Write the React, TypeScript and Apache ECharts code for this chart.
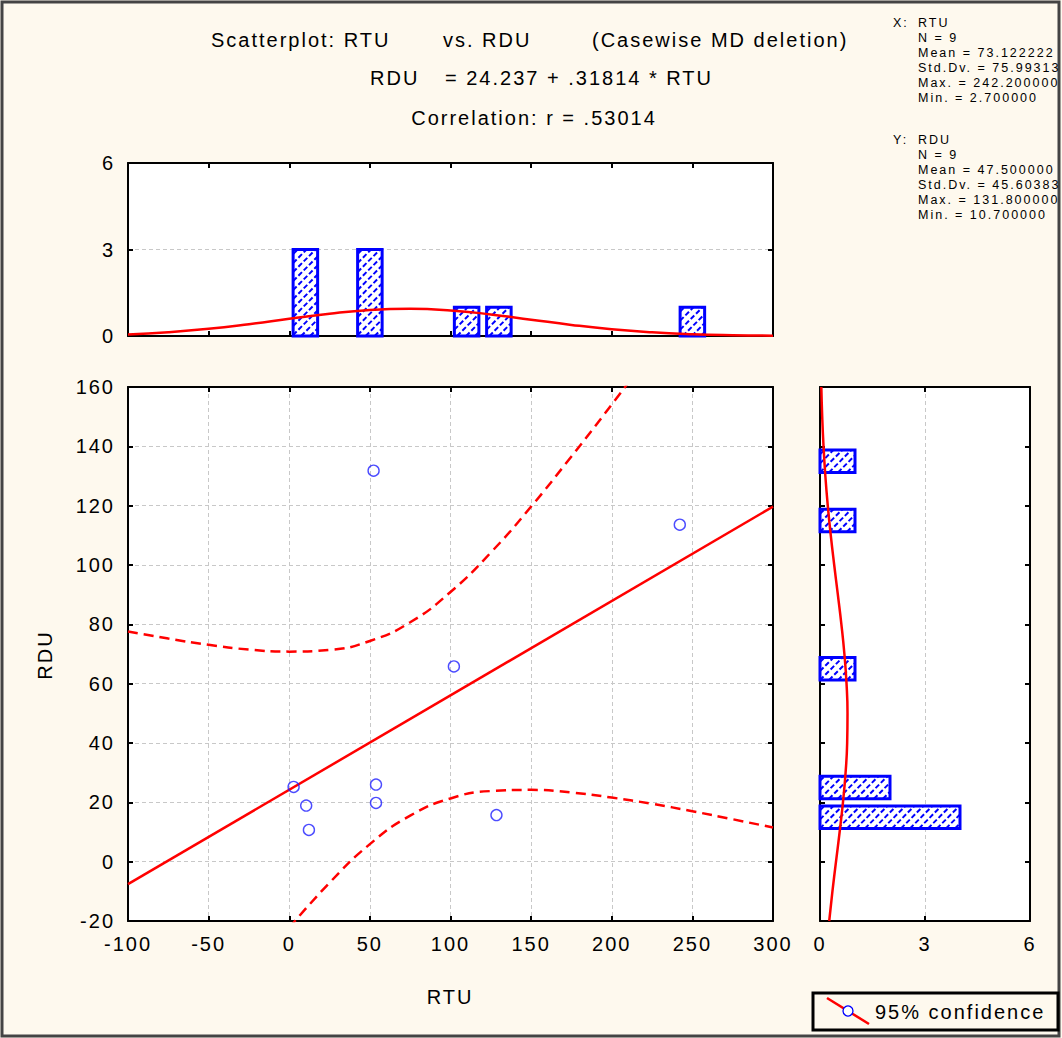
import React, { useEffect, useRef } from "react";
import * as echarts from "echarts";

// Observations
const rtu = [52.3, 242.2, 102.1, 2.7, 10.5, 12.2, 53.8, 53.8, 128.5];
const rdu = [131.8, 113.6, 65.8, 25.2, 18.9, 10.7, 26.0, 19.8, 15.7];

// Fitted line RDU = 24.237 + .31814 * RTU
const intercept = 24.237;
const slope = 0.31814;
const fitEnds = [-100, 300];

// 95% confidence band of the fit
const bandUpperX = [-100, -75, -50, -25, 0, 25, 50, 75, 100, 125, 150, 175, 200, 225];
const bandUpper = [77.6, 75.2, 73.1, 71.5, 70.8, 71.4, 74.4, 80.7, 90.9, 104.2, 119.7, 136.6, 154.1, 172.2];
const bandLowerX = [0, 25, 50, 75, 100, 125, 150, 175, 200, 225, 250, 275, 300];
const bandLower = [-22.3, -7.1, 5.9, 15.5, 21.3, 23.8, 24.2, 23.3, 21.6, 19.5, 17.0, 14.3, 11.5];

// Histogram of RTU: [from, to, count]
const rtuBins = [
  [0, 20, 3],
  [40, 60, 3],
  [100, 120, 1],
  [120, 140, 1],
  [240, 260, 1],
];
// Normal curve over the RTU histogram
const rtuCurveX = [-100, -75, -50, -25, 0, 25, 50, 75, 100, 125, 150, 175, 200, 225, 250, 275, 300];
const rtuCurve = [0.05, 0.13, 0.25, 0.411, 0.595, 0.773, 0.902, 0.945, 0.888, 0.749, 0.567, 0.385, 0.234, 0.128, 0.063, 0.028, 0.011];

// Histogram of RDU: [from, to, count]
const rduBins = [
  [130, 140, 1],
  [110, 120, 1],
  [60, 70, 1],
  [20, 30, 2],
  [10, 20, 4],
];
// Normal curve beside the RDU histogram
const rduCurveY = [-20, -10, 0, 10, 20, 30, 40, 50, 60, 70, 80, 90, 100, 110, 120, 130, 140, 150, 160];
const rduCurve = [0.263, 0.355, 0.457, 0.561, 0.656, 0.731, 0.776, 0.786, 0.758, 0.697, 0.611, 0.51, 0.406, 0.308, 0.222, 0.153, 0.101, 0.063, 0.038];

// Tick settings
const mainXRange = [-100, 300];
const mainXStep = 50;
const mainYRange = [-20, 160];
const mainYStep = 20;
const countRange = [0, 6];
const countStep = 3;

const statsX = ["X:", "RTU", "N = 9", "Mean = 73.122222", "Std.Dv. = 75.99313", "Max. = 242.200000", "Min. = 2.700000"];
const statsY = ["Y:", "RDU", "N = 9", "Mean = 47.500000", "Std.Dv. = 45.60383", "Max. = 131.800000", "Min. = 10.700000"];

const FONT = "'Liberation Sans', Arial, sans-serif";
const RED = "#ff0000";
const BLUE = "#0000ff";
const CREAM = "#fef9ee";

const zip = (a: number[], b: number[]) => a.map((v, i) => [v, b[i]]);

// Hatched histogram bars: white box, blue dashed diagonals, blue outline
function hatchBars(horizontal: boolean) {
  return (params: any, api: any) => {
    const lo = api.value(0);
    const hi = api.value(1);
    const n = api.value(2);
    const pad = (hi - lo) * 0.12;
    let p0: number[];
    let p1: number[];
    if (!horizontal) {
      p0 = api.coord([lo + pad, n]);
      p1 = api.coord([hi - pad, 0]);
    } else {
      p0 = api.coord([0, hi - pad]);
      p1 = api.coord([n, lo + pad]);
    }
    const x0 = p0[0];
    const y0 = p0[1];
    const x1 = p1[0];
    const y1 = p1[1];
    const children: any[] = [
      { type: "rect", shape: { x: x0, y: y0, width: x1 - x0, height: y1 - y0 }, style: { fill: "#fff" } },
    ];
    const step = 9;
    for (let c = x0 + y0 + step / 2; c < x1 + y1; c += step) {
      const xa = Math.max(x0, c - y1);
      const xb = Math.min(x1, c - y0);
      if (xb <= xa) continue;
      children.push({
        type: "line",
        shape: { x1: xa, y1: c - xa, x2: xb, y2: c - xb },
        style: { stroke: BLUE, lineWidth: 2, lineDash: [5, 2.5] },
      });
    }
    children.push({
      type: "rect",
      shape: { x: x0, y: y0, width: x1 - x0, height: y1 - y0 },
      style: { fill: "none", stroke: BLUE, lineWidth: 3 },
    });
    return { type: "group", children };
  };
}

const frameLine = { show: true, onZero: false, lineStyle: { color: "#000", width: 2 } };
const inTicks = { show: true, inside: true, length: 5, lineStyle: { color: "#000", width: 2 } };
const dashedGrid = { show: true, lineStyle: { color: "#c8c8c8", type: [4, 3], width: 1 } };
const tickLabel = { show: true, fontSize: 20, color: "#000", fontFamily: FONT, margin: 13 };

function makeAxis(grid: number, position: string, range: number[], interval: number, labels: boolean, split: boolean) {
  return {
    type: "value",
    gridIndex: grid,
    position,
    min: range[0],
    max: range[1],
    interval,
    axisLine: frameLine,
    axisTick: inTicks,
    axisLabel: labels ? tickLabel : { show: false },
    splitLine: split ? dashedGrid : { show: false },
  };
}

function textEl(text: string, x: number, y: number, size: number, align = "left", rotation = 0) {
  return {
    type: "text",
    x,
    y,
    rotation,
    style: { text, font: `${size}px ${FONT}`, fill: "#000", textAlign: align, textVerticalAlign: "middle" },
  };
}

function statsBlock(lines: string[], top: number) {
  const els: any[] = [textEl(lines[0], 893, top, 12.5), textEl(lines[1], 918, top, 12.5)];
  for (let i = 2; i < lines.length; i++) els.push(textEl(lines[i], 918, top + (i - 1) * 15, 12.5));
  return els;
}

export default function App() {
  const ref = useRef<HTMLDivElement>(null);

  useEffect(() => {
    document.body.style.margin = "0";
    const chart = echarts.init(ref.current!, null, { renderer: "svg" });
    chart.setOption({
      animation: false,
      backgroundColor: CREAM,
      grid: [
        { left: 128, top: 387, width: 645, height: 534, show: true, backgroundColor: "#fff", borderWidth: 0 },
        { left: 128, top: 163, width: 645, height: 173, show: true, backgroundColor: "#fff", borderWidth: 0 },
        { left: 820, top: 387, width: 210, height: 534, show: true, backgroundColor: "#fff", borderWidth: 0 },
      ],
      xAxis: [
        makeAxis(0, "bottom", mainXRange, mainXStep, true, true),
        makeAxis(0, "top", mainXRange, mainXStep, false, false),
        makeAxis(1, "bottom", mainXRange, mainXStep, false, false),
        makeAxis(1, "top", mainXRange, mainXStep, false, false),
        makeAxis(2, "bottom", countRange, countStep, true, true),
        makeAxis(2, "top", countRange, countStep, false, false),
      ],
      yAxis: [
        makeAxis(0, "left", mainYRange, mainYStep, true, true),
        makeAxis(0, "right", mainYRange, mainYStep, false, false),
        makeAxis(1, "left", countRange, countStep, true, true),
        makeAxis(1, "right", countRange, countStep, false, false),
        makeAxis(2, "left", mainYRange, mainYStep, false, false),
        makeAxis(2, "right", mainYRange, mainYStep, false, false),
      ],
      series: [
        {
          type: "custom",
          name: "RTU histogram",
          xAxisIndex: 2,
          yAxisIndex: 2,
          data: rtuBins,
          renderItem: hatchBars(false),
        },
        {
          type: "line",
          xAxisIndex: 2,
          yAxisIndex: 2,
          data: zip(rtuCurveX, rtuCurve),
          smooth: true,
          showSymbol: false,
          lineStyle: { color: RED, width: 2.5 },
        },
        {
          type: "custom",
          name: "RDU histogram",
          xAxisIndex: 4,
          yAxisIndex: 4,
          data: rduBins,
          renderItem: hatchBars(true),
        },
        {
          type: "line",
          xAxisIndex: 4,
          yAxisIndex: 4,
          data: zip(rduCurve, rduCurveY),
          smooth: true,
          showSymbol: false,
          lineStyle: { color: RED, width: 2.5 },
        },
        {
          type: "line",
          xAxisIndex: 0,
          yAxisIndex: 0,
          data: fitEnds.map((x) => [x, intercept + slope * x]),
          showSymbol: false,
          lineStyle: { color: RED, width: 2.5 },
        },
        {
          type: "line",
          xAxisIndex: 0,
          yAxisIndex: 0,
          data: zip(bandUpperX, bandUpper),
          smooth: true,
          showSymbol: false,
          clip: true,
          lineStyle: { color: RED, width: 2.5, type: [10, 6] },
        },
        {
          type: "line",
          xAxisIndex: 0,
          yAxisIndex: 0,
          data: zip(bandLowerX, bandLower),
          smooth: true,
          showSymbol: false,
          clip: true,
          lineStyle: { color: RED, width: 2.5, type: [10, 6] },
        },
        {
          type: "scatter",
          xAxisIndex: 0,
          yAxisIndex: 0,
          data: zip(rtu, rdu),
          symbol: "circle",
          symbolSize: 11,
          itemStyle: { color: "rgba(0,0,0,0)", borderColor: "#1f1fff", borderWidth: 1.4 },
          z: 5,
        },
      ],
      graphic: [
        {
          type: "rect",
          shape: { x: 2, y: 2, width: 1057, height: 1034 },
          style: { fill: "none", stroke: "#444", lineWidth: 3 },
        },
        textEl("Scatterplot: RTU", 211, 40, 20),
        textEl("vs. RDU", 443, 40, 20),
        textEl("(Casewise MD deletion)", 592, 40, 20),
        textEl("RDU", 370, 78, 20),
        textEl("= 24.237 + .31814 * RTU", 445, 78, 20),
        textEl("Correlation: r = .53014", 534, 118, 20, "center"),
        textEl("RTU", 450, 997, 20, "center"),
        textEl("RDU", 45, 655, 20, "center", Math.PI / 2),
        ...statsBlock(statsX, 23),
        ...statsBlock(statsY, 140),
        {
          type: "group",
          children: [
            {
              type: "rect",
              shape: { x: 813, y: 993, width: 245, height: 37 },
              style: { fill: CREAM, stroke: "#000", lineWidth: 3 },
            },
            {
              type: "line",
              shape: { x1: 827, y1: 998, x2: 869, y2: 1024 },
              style: { stroke: RED, lineWidth: 2.5 },
            },
            {
              type: "circle",
              shape: { cx: 848, cy: 1011, r: 5 },
              style: { fill: "#fff", stroke: BLUE, lineWidth: 1.3 },
            },
            textEl("95% confidence", 875, 1012, 20),
          ],
        },
      ],
    });
    return () => chart.dispose();
  }, []);

  return (
    <>
      <style>{`.plot-surface text { letter-spacing: 2px; }`}</style>
      <div className="plot-surface" ref={ref} style={{ width: 1062, height: 1038 }} />
    </>
  );
}
